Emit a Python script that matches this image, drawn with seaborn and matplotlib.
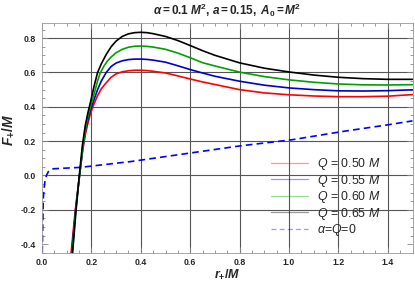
import numpy as np
import pandas as pd
import matplotlib
matplotlib.use("Agg")
import matplotlib.pyplot as plt
import seaborn as sns
from matplotlib.lines import Line2D
from matplotlib.ticker import MultipleLocator

# ---- data ----
r_q050 = [0.118, 0.135, 0.152, 0.165, 0.177, 0.187, 0.196, 0.21, 0.225, 0.24, 0.26, 0.28, 0.3, 0.325, 0.35, 0.375, 0.4, 0.425, 0.45, 0.5, 0.55, 0.6, 0.65, 0.7, 0.8, 0.9, 1.0, 1.1, 1.2, 1.3, 1.4, 1.5]
f_q050 = [-0.45, -0.2, 0.0, 0.15, 0.25, 0.31, 0.36, 0.415, 0.465, 0.505, 0.54, 0.572, 0.592, 0.604, 0.61, 0.613, 0.613, 0.611, 0.607, 0.597, 0.58, 0.562, 0.545, 0.53, 0.5, 0.481, 0.47, 0.463, 0.459, 0.459, 0.462, 0.471]

r_q055 = [0.12, 0.136, 0.152, 0.165, 0.177, 0.187, 0.196, 0.21, 0.225, 0.24, 0.26, 0.28, 0.3, 0.325, 0.35, 0.375, 0.4, 0.425, 0.45, 0.5, 0.55, 0.6, 0.65, 0.7, 0.8, 0.9, 1.0, 1.1, 1.2, 1.3, 1.4, 1.5]
f_q055 = [-0.45, -0.2, 0.0, 0.16, 0.27, 0.33, 0.38, 0.44, 0.5, 0.55, 0.6, 0.635, 0.655, 0.668, 0.675, 0.678, 0.678, 0.676, 0.672, 0.66, 0.639, 0.617, 0.597, 0.578, 0.549, 0.526, 0.51, 0.5, 0.493, 0.492, 0.494, 0.499]

r_q060 = [0.122, 0.137, 0.152, 0.165, 0.177, 0.187, 0.196, 0.21, 0.225, 0.235, 0.25, 0.265, 0.28, 0.3, 0.325, 0.35, 0.375, 0.4, 0.425, 0.45, 0.5, 0.55, 0.6, 0.65, 0.7, 0.8, 0.9, 1.0, 1.1, 1.2, 1.3, 1.4, 1.5]
f_q060 = [-0.45, -0.2, 0.0, 0.16, 0.28, 0.35, 0.4, 0.47, 0.55, 0.595, 0.635, 0.667, 0.69, 0.715, 0.735, 0.747, 0.753, 0.754, 0.752, 0.748, 0.735, 0.713, 0.686, 0.657, 0.638, 0.602, 0.576, 0.557, 0.543, 0.533, 0.528, 0.527, 0.529]

r_q065 = [0.124, 0.138, 0.151, 0.163, 0.175, 0.185, 0.195, 0.21, 0.225, 0.24, 0.26, 0.28, 0.3, 0.325, 0.35, 0.375, 0.4, 0.425, 0.45, 0.5, 0.55, 0.6, 0.65, 0.7, 0.8, 0.9, 1.0, 1.1, 1.2, 1.3, 1.4, 1.5]
f_q065 = [-0.45, -0.2, 0.0, 0.17, 0.29, 0.36, 0.42, 0.515, 0.6, 0.65, 0.705, 0.75, 0.783, 0.81, 0.825, 0.832, 0.834, 0.832, 0.826, 0.81, 0.786, 0.757, 0.727, 0.7, 0.656, 0.625, 0.603, 0.585, 0.572, 0.564, 0.56, 0.56]

r_q0 = [0.001, 0.003, 0.005, 0.008, 0.012, 0.018, 0.026, 0.035, 0.046, 0.1, 0.155, 0.25, 0.359, 0.5, 0.645, 0.8, 1.012, 1.216, 1.4, 1.5]
f_q0 = [-0.45, -0.3, -0.14, -0.08, -0.035, 0.0, 0.023, 0.034, 0.039, 0.043, 0.047, 0.063, 0.081, 0.11, 0.14, 0.172, 0.208, 0.256, 0.295, 0.318]

legend_labels = [r"$Q$ = 0.50 $M$", r"$Q$ = 0.55 $M$", r"$Q$ = 0.60 $M$", r"$Q$ = 0.65 $M$", r"$\alpha$=$Q$=0"]
colors = ["#ff0000", "#0000cc", "#00a000", "#000000"]

xticks = [0.0, 0.2, 0.4, 0.6, 0.8, 1.0, 1.2, 1.4]
yticks = [-0.4, -0.2, 0.0, 0.2, 0.4, 0.6, 0.8]

sns.set_style("ticks")
plt.rcParams['font.family'] = ['Liberation Sans', 'DejaVu Sans']
plt.rcParams['mathtext.fontset'] = 'custom'
plt.rcParams['mathtext.rm'] = 'Liberation Sans'
plt.rcParams['mathtext.it'] = 'Liberation Sans:italic'
plt.rcParams['mathtext.bf'] = 'Liberation Sans:bold'
plt.rcParams['mathtext.bfit'] = 'Liberation Sans:bold:italic'

W, H = 415, 284
fig = plt.figure(figsize=(W / 100, H / 100), dpi=100)
L, R, T, B = 42, 412.5, 22.7, 252.7
ax = fig.add_axes([L / W, (H - B) / H, (R - L) / W, (B - T) / H])

# grid lines
for gx in xticks[1:]:
    ax.axvline(gx, color="#555555", lw=0.8, zorder=0)
for gy in yticks[1:]:
    ax.axhline(gy, color="#555555", lw=0.8, zorder=0)

series = [(r_q050, f_q050), (r_q055, f_q055), (r_q060, f_q060), (r_q065, f_q065)]
for (rx, fy), c in zip(series, colors):
    sns.lineplot(x=rx, y=fy, color=c, lw=1.2, ax=ax, sort=False, estimator=None, legend=False, zorder=3)
sns.lineplot(x=r_q0, y=f_q0, color="#0000ff", lw=1.2, ax=ax, sort=False, estimator=None,
             legend=False, zorder=2)
ax.lines[-1].set_linestyle((0, (4, 2.5)))

ax.set_xlim(0, 1.5)
ax.set_ylim(-0.45, 0.89)
ax.set_xticks(xticks)
ax.set_yticks(yticks)
ax.set_xticklabels([f"{v:.1f}" for v in xticks])
ax.set_yticklabels([f"{v:.1f}" for v in yticks])
ax.xaxis.set_minor_locator(MultipleLocator(0.05))
ax.yaxis.set_minor_locator(MultipleLocator(0.05))
ax.tick_params(which="both", direction="in", top=True, right=True, labelsize=6.3, width=0.6, color="#888888")
ax.tick_params(which="major", length=4)
ax.tick_params(which="minor", length=2)
ax.tick_params(axis="y", pad=4.5)
ax.tick_params(axis="x", pad=4)
for lab in ax.get_xticklabels() + ax.get_yticklabels():
    lab.set_fontweight("bold")
for s in ax.spines.values():
    s.set_color("#999999")
    s.set_linewidth(0.6)

ax.set_xlabel(r"$\mathbfit{r}_{\mathbf{+}}\mathbf{/}\mathbfit{M}$", fontsize=9)
ax.set_ylabel(r"$\mathbfit{F}_{\mathbf{+}}\mathbf{/}\mathbfit{M}$", fontsize=10)
ax.xaxis.set_label_coords((227 - L) / (R - L), -(268 - B) / (B - T))
ax.yaxis.set_label_coords(-(L - 16) / (R - L), (B - 130) / (B - T))
fig.text(227 / W, 1 - 10 / H,
         r"$\mathbfit{\alpha}\mathbf{=0.1}\ \mathbfit{M}^{\mathbf{2}}\mathbf{,}\ \mathbfit{a}\mathbf{=0.15,}\ \mathbfit{A}_{\mathbf{0}}\mathbf{=}\mathbfit{M}^{\mathbf{2}}$",
         ha="center", va="center", fontsize=8.5)

handles = [Line2D([], [], color=c, lw=0.9, alpha=0.4) for c in colors]
handles.append(Line2D([], [], color="#0000ff", lw=0.9, alpha=0.4, linestyle=(0, (4, 2.5))))
leg = ax.legend(handles, legend_labels, loc="upper left", bbox_to_anchor=((266 - L) / (R - L), (B - 151) / (B - T)),
                frameon=False, fontsize=8.9, handlelength=3.0, handletextpad=0.75, labelspacing=0.05, borderaxespad=0)

fig.savefig("out.png", dpi=100)
